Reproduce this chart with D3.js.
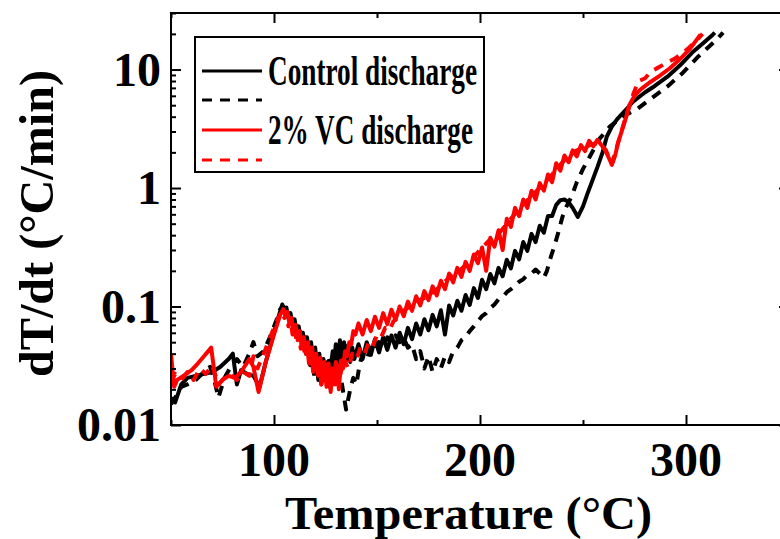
<!DOCTYPE html>
<html><head><meta charset="utf-8">
<script src="https://cdn.jsdelivr.net/npm/d3@7"></script>
<style>body{margin:0;background:#fff}svg{display:block}</style>
</head><body><svg id="c" width="780" height="539"></svg>
<script>
// ---- data (Temperature °C, dT/dt °C/min) ----
const controlSolid = [[50,0.017],[52,0.0155],[55,0.022],[58,0.025],[62,0.026],[66,0.027],[70,0.028],[74,0.031],[78,0.036],[80,0.040],[82,0.022],[84,0.029],[87,0.027],[90,0.026],[93,0.021],[96,0.034],[99,0.052],[102,0.08],[104,0.104],
[105,0.092],[106,0.098],[107,0.08],[108,0.088],[109,0.07],[110,0.078],[111,0.06],[112,0.068],[113,0.052],[114,0.06],[115,0.045],[116,0.055],[117,0.04],[118,0.05],[119,0.034],[120,0.045],[121,0.028],[122,0.04],[123,0.022],[124,0.036],[125,0.026],[126,0.034],[127,0.021],[128,0.036],[129,0.03],[130,0.048],[131,0.033],[132,0.052],[133,0.036],[134,0.05],[135,0.035],[136,0.047],[137,0.034],[138,0.045],[139,0.036],
[141,0.048],[143,0.036],[145,0.05],[147,0.039],[149,0.053],[151,0.041],[153,0.055],[155,0.043],[157,0.057],[159,0.045],[161,0.06],[163,0.048],[165,0.066],[167,0.053],[169,0.072],[171,0.058],[173,0.078],[175,0.063],[177,0.085],[179,0.068],[181,0.093],[183,0.058],[185,0.102],[187,0.084],[189,0.112],[191,0.092],[193,0.125],[195,0.103],[197,0.143],[199,0.118],[201,0.168],[203,0.14],[205,0.188],[207,0.157],[209,0.212],[211,0.18],[213,0.248],[215,0.21],[217,0.295],[219,0.25],[221,0.35],[223,0.295],[225,0.41],[227,0.35],[229,0.48],[231,0.42],[233,0.58],[235,0.58],[237,0.72],[239,0.79],[241,0.8],[243,0.76],[245,0.68],[247.5,0.57],[250,0.7],[252,0.88],[254.5,1.15],[257,1.5],[259.5,2.0],[261.5,2.7],[264,3.3],[266.5,3.8],[271,4.6],[274,5.3],[280,6.4],[285,7.3],[291,8.7],[297,10.8],[303,13.9],[308,16.5],[313,19.7],[314,20.5]];

const controlDashed = [[50,0.015],[52,0.017],[55,0.021],[58,0.022],[62,0.024],[66,0.028],[69,0.031],[71,0.024],[73,0.017],[76,0.025],[79,0.031],[82,0.036],[85,0.031],[88,0.04],[90,0.05],[92,0.038],[95,0.042],[98,0.055],[101,0.075],[103,0.095],[104.5,0.1],
[105.5,0.09],[106.5,0.095],[107.5,0.078],[108.5,0.085],[109.5,0.066],[110.5,0.074],[111.5,0.056],[112.5,0.064],[113.5,0.048],[114.5,0.056],[115.5,0.04],[116.5,0.05],[117.5,0.032],[118.5,0.044],[119.5,0.026],[120.5,0.04],[121.5,0.024],[122.5,0.035],[123.5,0.022],[124.5,0.033],[125.5,0.025],[126.5,0.038],[127.5,0.03],[128.5,0.042],[129.5,0.032],[131,0.036],[133,0.022],[135,0.0135],[137,0.02],[138.5,0.025],[140,0.022],[141.5,0.032],[143,0.04],[145,0.036],[147,0.045],[149,0.042],[151,0.05],[153,0.046],[155,0.055],[157,0.05],[159,0.057],[161,0.05],[163,0.054],[165,0.045],[167,0.048],[169,0.036],[171,0.042],[173,0.03],[175,0.038],[177,0.028],[179,0.036],[181,0.03],[183,0.038],[185,0.034],[187,0.042],[189,0.045],[191,0.052],[193,0.055],[195,0.062],[197,0.068],[199,0.075],[201,0.083],[203,0.088],[205,0.097],[207,0.104],[209,0.115],[211,0.12],[213,0.132],[215,0.14],[217,0.15],[219,0.162],[221,0.17],[223,0.185],[225,0.19],[227,0.205],[229,0.19],[231,0.175],[232.5,0.2],[234,0.25],[236,0.32],[238,0.42],[240,0.57],[242,0.7],[244.5,0.85],[247,1.12],[250,1.45],[253,1.8],[256,2.25],[258,2.6],[263,3.3],[269,4.0],[276,4.6],[282.5,5.6],[291,7.2],[298.5,9.4],[306,12.9],[314,17.3],[318,20.5]];

const vcSolid = [[50,0.04],[51.5,0.021],[53,0.024],[56,0.026],[60,0.029],[63,0.033],[66,0.038],[69.5,0.045],[72,0.021],[75,0.024],[78,0.026],[81,0.025],[84,0.028],[88,0.036],[90,0.031],[92.5,0.019],[96,0.034],[100,0.058],[103,0.085],[104.5,0.095],
[105.5,0.085],[106.5,0.09],[107.5,0.072],[108.5,0.08],[109.5,0.06],[110.5,0.07],[111.5,0.052],[112.5,0.062],[113.5,0.045],[114.5,0.055],[115.5,0.04],[116.5,0.05],[117.5,0.034],[118.5,0.045],[119.5,0.03],[120.5,0.04],[121.5,0.026],[122.5,0.037],[123.5,0.024],[124.5,0.034],[125.5,0.021],[126.5,0.033],[127.5,0.019],[128.5,0.03],[129.5,0.022],[130.5,0.032],[131.5,0.02],[132.5,0.035],[133.5,0.03],[134.5,0.042],[135.5,0.038],[136.5,0.05],[137.5,0.048],[138.5,0.062],[139.5,0.058],
[141,0.072],[143,0.058],[145,0.077],[147,0.062],[149,0.082],[151,0.066],[153,0.088],[155,0.071],[157,0.094],[159,0.077],[161,0.1],[163,0.083],[165,0.11],[167,0.092],[169,0.122],[171,0.102],[173,0.135],[175,0.113],[177,0.148],[179,0.124],[181,0.165],[183,0.14],[185,0.19],[187,0.16],[189,0.212],[191,0.178],[193,0.238],[195,0.2],[197,0.275],[199,0.232],[201,0.315],[203,0.2],[205,0.38],[207,0.32],[209,0.44],[211,0.3],[213,0.55],[215,0.47],[217,0.68],[219,0.58],[221,0.8],[223,0.68],[225,0.95],[227,0.8],[229,1.1],[231,0.95],[233,1.3],[235,1.12],[237,1.62],[239,1.4],[241,1.88],[243,1.65],[245,2.08],[247,1.85],[249,2.3],[251,2.05],[253,2.5],[255,2.25],[257,2.55],[259,2.3],[261,2.05],[262.5,1.8],[264,1.57],[265.5,1.85],[267,2.4],[269,3.1],[271,4.0],[273,5.2],[275,6.0],[278,6.8],[282,7.7],[287,8.8],[292,10.2],[297,12.2],[302,15.0],[307,19.7]];

const vcDashed = [[50,0.023],[52,0.027],[55,0.024],[58,0.028],[61,0.024],[64,0.03],[67,0.027],[70,0.032],[73,0.022],[76,0.025],[79,0.027],[82,0.024],[85,0.028],[88,0.026],[90,0.038],[92,0.03],[95,0.04],[99,0.06],[102,0.08],[104,0.092],
[105,0.08],[106,0.088],[107,0.068],[108,0.078],[109,0.058],[110,0.068],[111,0.05],[112,0.06],[113,0.044],[114,0.054],[115,0.038],[116,0.048],[117,0.033],[118,0.043],[119,0.028],[120,0.04],[121,0.025],[122,0.036],[123,0.022],[124,0.034],[125,0.024],[126,0.032],[127,0.022],[128,0.03],[129,0.023],[130,0.034],[132,0.026],[134,0.036],[136,0.03],[138,0.04],[140,0.036],[142,0.045],[144,0.04],[146,0.05],[148,0.046],[150,0.058],[152,0.055],[154,0.066],[156,0.063],[158,0.075],[160,0.08],[162,0.09],[164,0.095],[166,0.1],[170,0.112],[175,0.122],[180,0.145],[185,0.175],[190,0.2],[195,0.24],[200,0.3],[205,0.37],[210,0.43],[215,0.55],[220,0.7],[225,0.85],[230,1.05],[235,1.3],[240,1.65],[245,2.0],[250,2.2],[255,2.35],[258,2.4],[261,2.1],[264,1.6],[267,2.4],[270,3.6],[272.5,5.0],[275,6.6],[277,8.0],[280,8.4],[283,9.6],[287,10.5],[291,11.5],[294,12.2],[298,13.6],[301,15.0],[305,17.5],[308,20.0]];

const xTickValues = [50,100,150,200,250,300,350];
const xLabelValues = [100,200,300];
const yLabelValues = [0.01,0.1,1,10];
const legendLabels = ["Control discharge","","2% VC discharge",""];
const xTitle = "Temperature (°C)";
const yTitle = "dT/dt (°C/min)";

// ---- drawing ----
const svg = d3.select("#c");
const FONT = "'Liberation Serif','Times New Roman',serif";
const L = 171, R = 789, T = 13, B = 425;
const x = d3.scaleLinear().domain([50,350]).range([L,R]);
const y = d3.scaleLog().domain([0.01,30]).range([B,T]);

svg.append("defs").append("clipPath").attr("id","clip")
  .append("rect").attr("x",L).attr("y",T).attr("width",R-L).attr("height",B-T);

const series = [
  {data: controlSolid, color:"#000", dash:null},
  {data: controlDashed, color:"#000", dash:"10,8"},
  {data: vcSolid, color:"#ff0000", dash:null},
  {data: vcDashed, color:"#ff0000", dash:"10,8"}
];
const line = d3.line().x(d=>x(d[0])).y(d=>y(d[1]));
const g = svg.append("g").attr("clip-path","url(#clip)");
series.forEach(s=>{
  g.append("path").datum(s.data).attr("d",line)
   .attr("fill","none").attr("stroke",s.color).attr("stroke-width",4)
   .attr("stroke-linejoin","round")
   .attr("stroke-dasharray",s.dash);
});

// axes (ticks inward)
const xMajor = v => xLabelValues.includes(v);
svg.append("g").attr("transform",`translate(0,${B})`).call(d3.axisBottom(x).tickValues(xTickValues).tickFormat("").tickSize(0)).call(a=>{
  a.select(".domain").remove();
  a.selectAll(".tick line").attr("y2",d=>xMajor(d)?-10:-5).attr("stroke","#000").attr("stroke-width",2);
});
svg.append("g").attr("transform",`translate(0,${T})`).call(d3.axisTop(x).tickValues(xTickValues).tickFormat("").tickSize(0)).call(a=>{
  a.select(".domain").remove();
  a.selectAll(".tick line").attr("y2",d=>xMajor(d)?10:5).attr("stroke","#000").attr("stroke-width",2);
});
const yAll = [];
[0.01,0.1,1,10].forEach(dec=>{for(let k=1;k<10;k++){const v=+(dec*k).toPrecision(3); if(v<=30) yAll.push(v);}});
const yMajor = v => yLabelValues.includes(v);
svg.append("g").attr("transform",`translate(${L},0)`).call(d3.axisLeft(y).tickValues(yAll).tickFormat("").tickSize(0)).call(a=>{
  a.select(".domain").remove();
  a.selectAll(".tick line").attr("x2",d=>yMajor(d)?10:5).attr("stroke","#000").attr("stroke-width",2);
});
svg.append("g").attr("transform",`translate(${R},0)`).call(d3.axisRight(y).tickValues(yAll).tickFormat("").tickSize(0)).call(a=>{
  a.select(".domain").remove();
  a.selectAll(".tick line").attr("x2",d=>yMajor(d)?-10:-5).attr("stroke","#000").attr("stroke-width",2);
});
// frame
svg.append("rect").attr("x",L).attr("y",T).attr("width",R-L).attr("height",B-T)
  .attr("fill","none").attr("stroke","#000").attr("stroke-width",2);

// tick labels
svg.selectAll(".xl").data(xLabelValues).enter().append("text")
  .attr("x",d=>x(d)).attr("y",476).attr("text-anchor","middle")
  .attr("font-family",FONT).attr("font-weight","bold").attr("font-size",48).text(d=>d);
svg.selectAll(".yl").data(yLabelValues).enter().append("text")
  .attr("x",161).attr("y",d=>y(d)+16).attr("text-anchor","end")
  .attr("font-family",FONT).attr("font-weight","bold").attr("font-size",48).text(d=>d);

// titles
svg.append("text").attr("x",468.5).attr("y",528.5).attr("text-anchor","middle")
  .attr("font-family",FONT).attr("font-weight","bold").attr("font-size",47)
  .attr("textLength",367).attr("lengthAdjust","spacingAndGlyphs").text(xTitle);
svg.append("text").attr("transform","translate(53,223.5) rotate(-90)").attr("text-anchor","middle")
  .attr("font-family",FONT).attr("font-weight","bold").attr("font-size",48)
  .attr("textLength",307).attr("lengthAdjust","spacingAndGlyphs").text(yTitle);

// legend
const lg = svg.append("g");
lg.append("rect").attr("x",195).attr("y",37).attr("width",289).attr("height",135)
  .attr("fill","#fff").attr("stroke","#000").attr("stroke-width",2);
const rowY = [71,100,130,160];
const textLen = [209,0,205,0];
series.forEach((s,i)=>{
  lg.append("line").attr("x1",202).attr("x2",262).attr("y1",rowY[i]).attr("y2",rowY[i])
    .attr("stroke",s.color).attr("stroke-width",3).attr("stroke-dasharray",s.dash);
  if(legendLabels[i]){
    lg.append("text").attr("x",268).attr("y",rowY[i]+14)
      .attr("font-family",FONT).attr("font-weight","bold").attr("font-size",42)
      .attr("textLength",textLen[i]).attr("lengthAdjust","spacingAndGlyphs").text(legendLabels[i]);
  }
});
</script></body></html>
